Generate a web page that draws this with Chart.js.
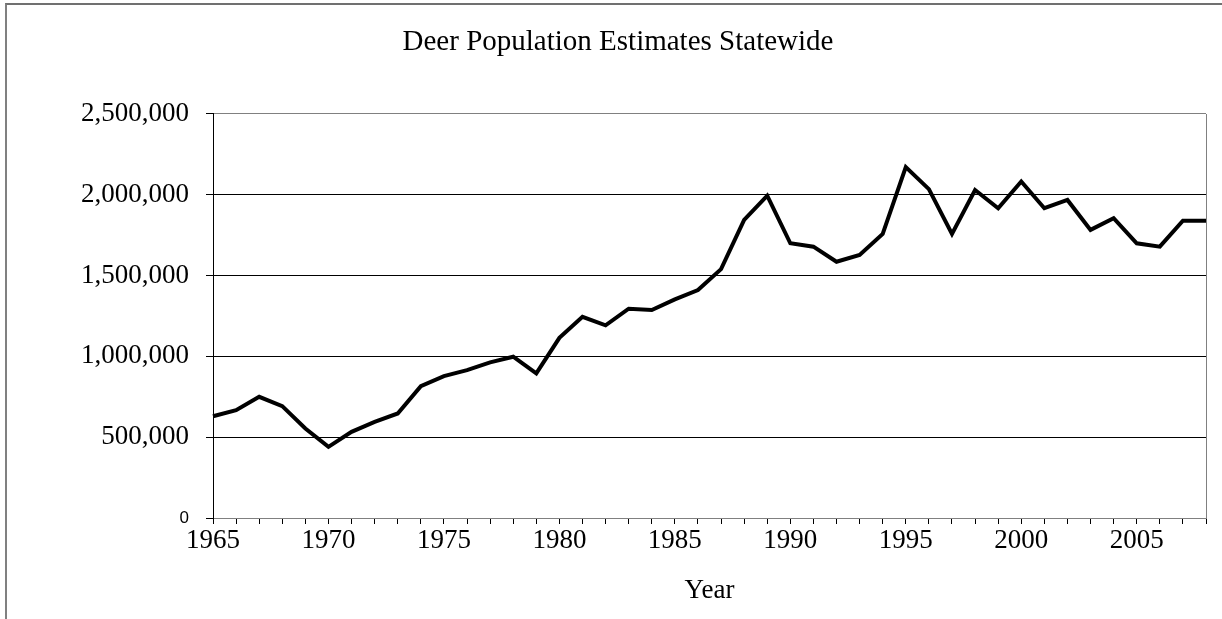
<!DOCTYPE html>
<html>
<head>
<meta charset="utf-8">
<script src="https://cdn.jsdelivr.net/npm/chart.js@4/dist/chart.umd.min.js"></script>
<style>
  html, body { margin: 0; padding: 0; background: #fff; }
  #wrap { position: relative; width: 1222px; height: 619px; overflow: hidden; }
  #frame { position: absolute; left: 5px; top: 3px; width: 1240px; height: 640px;
           border-left: 2px solid #808080; border-top: 2px solid #707070; box-sizing: border-box; }
  canvas { position: absolute; left: 0; top: 0; }
</style>
</head>
<body>
<div id="wrap">
  <div id="frame"></div>
  <canvas id="c" width="1222" height="619"></canvas>
</div>
<script>
const chartTitle = 'Deer Population Estimates Statewide';
const xAxisTitle = 'Year';
const years = ['1965','1966','1967','1968','1969','1970','1971','1972','1973','1974',
               '1975','1976','1977','1978','1979','1980','1981','1982','1983','1984',
               '1985','1986','1987','1988','1989','1990','1991','1992','1993','1994',
               '1995','1996','1997','1998','1999','2000','2001','2002','2003','2004',
               '2005','2006','2007','2008'];
const deer = [630000, 667000, 750000, 692000, 554000, 440000, 533000, 595000, 647000, 816000,
              878000, 915000, 963000, 998000, 895000, 1115000, 1245000, 1192000, 1295000, 1287000,
              1353000, 1411000, 1540000, 1845000, 1995000, 1700000, 1679000, 1586000, 1628000, 1758000,
              2171000, 2035000, 1758000, 2030000, 1917000, 2082000, 1917000, 1968000, 1783000, 1855000,
              1700000, 1679000, 1840000, 1840000];
const labeledYears = ['1965','1970','1975','1980','1985','1990','1995','2000','2005'];
const yMin = 0, yMax = 2500000, yStep = 500000;

const serif = 'Liberation Serif, Times New Roman, serif';

new Chart(document.getElementById('c'), {
  type: 'line',
  data: {
    labels: years,
    datasets: [{
      label: 'Deer',
      data: deer,
      borderColor: '#000',
      borderWidth: 4,
      pointRadius: 0,
      tension: 0,
      fill: false
    }]
  },
  options: {
    responsive: false,
    animation: false,
    devicePixelRatio: 1,
    layout: { padding: { left: 30, right: 16, top: 0, bottom: 0 } },
    plugins: {
      legend: { display: false },
      tooltip: { enabled: false },
      title: {
        display: true,
        text: chartTitle,
        color: '#000',
        font: { family: serif, size: 29, weight: 'normal' },
        padding: { top: 25.4, bottom: 53.8 }
      }
    },
    scales: {
      x: {
        type: 'category',
        offset: false,
        afterFit: (s) => { s.height = 101; },
        border: { display: true, color: '#808080', width: 1 },
        grid: {
          drawOnChartArea: true,
          drawTicks: true,
          tickLength: 6,
          tickColor: '#000',
          color: (ctx) => ctx.index === years.length - 1 ? '#808080' : 'rgba(0,0,0,0)',
          lineWidth: 1
        },
        ticks: {
          autoSkip: false,
          maxRotation: 0,
          color: '#000',
          padding: 1,
          font: { family: serif, size: 27 },
          callback: function (v) {
            const l = this.getLabelForValue(v);
            return labeledYears.includes(l) ? l : '';
          }
        },
        title: {
          display: true,
          text: xAxisTitle,
          color: '#000',
          font: { family: serif, size: 27 },
          padding: { top: 0, bottom: 12 }
        }
      },
      y: {
        min: yMin,
        max: yMax,
        afterFit: (s) => { s.width = 183; },
        border: { display: true, color: '#000', width: 1 },
        grid: {
          drawTicks: true,
          tickLength: 7,
          tickColor: '#000',
          color: (ctx) => (ctx.tick && (ctx.tick.value === yMax || ctx.tick.value === yMin)) ? '#808080' : '#000',
          lineWidth: 1
        },
        ticks: {
          stepSize: yStep,
          color: '#000',
          padding: 17,
          font: (ctx) => (ctx.tick && ctx.tick.value === 0)
            ? { family: 'Liberation Sans, Arial, sans-serif', size: 17 }
            : { family: serif, size: 27 },
          callback: (v) => Number(v).toLocaleString('en-US')
        }
      }
    }
  }
});
</script>
</body>
</html>
